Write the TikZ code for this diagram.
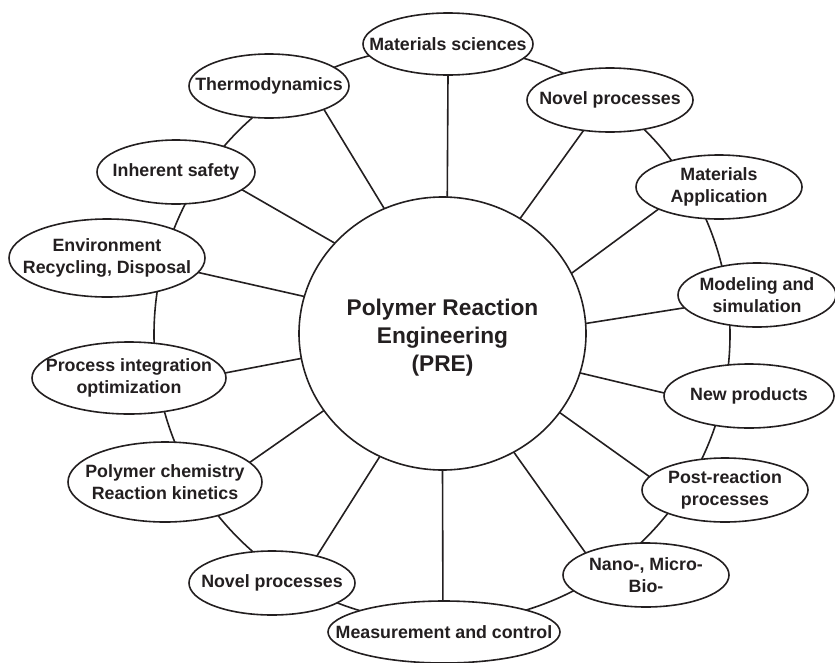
\documentclass[tikz,border=0pt]{standalone}
\usepackage{fontspec}
\setmainfont{Liberation Sans}
\usetikzlibrary{shapes.geometric}
\definecolor{ink}{RGB}{35,31,32}
\tikzset{
  bub/.style 2 args={ellipse, draw=ink, fill=white, line width=1.6pt,
    minimum width=#1, minimum height=#2, inner sep=0pt, outer sep=0pt},
  lbl/.style={font=\bfseries\fontsize{17.8}{22}\selectfont, text=ink, align=center, inner sep=0pt},
  biglbl/.style={font=\bfseries\fontsize{22.7}{28}\selectfont, text=ink, align=center, inner sep=0pt},
  link/.style={draw=ink, line width=1.6pt}
}
\begin{document}
\begin{tikzpicture}[x=1pt,y=-1pt]
\useasboundingbox (0,0) rectangle (835,662);
% outer ring
\coordinate (hub) at (442,334.5);
\draw[link] (hub) circle[radius=288];
% central
\node[bub={287}{273}] (pre) at (442.5,333.5) {};
\node[biglbl, yshift=-4pt] (pre-t) at (pre) {Polymer Reaction\\Engineering\\(PRE)};
% satellites
\node[bub={170}{62}] (ms) at (448,44) {};
\node[lbl] (ms-t) at (ms) {Materials sciences};
\node[bub={166}{64}] (np1) at (610,100) {};
\node[lbl] (np1-t) at (np1) {Novel processes};
\node[bub={166}{64}] (ma) at (719,187) {};
\node[lbl] (ma-t) at (ma) {Materials\\Application};
\node[bub={158}{64}] (mod) at (757,295) {};
\node[lbl] (mod-t) at (mod) {Modeling and\\simulation};
\node[bub={170}{64}] (newp) at (749,396) {};
\node[lbl] (newp-t) at (newp) {New products};
\node[bub={166}{64}] (post) at (725,490) {};
\node[lbl] (post-t) at (post) {Post-reaction\\processes};
\node[bub={166}{64}] (nano) at (646,575) {};
\node[lbl] (nano-t) at (nano) {Nano-, Micro-\\Bio-};
\node[bub={232}{62}] (meas) at (444,632) {};
\node[lbl] (meas-t) at (meas) {Measurement and control};
\node[bub={166}{64}] (np2) at (272,583) {};
\node[lbl] (np2-t) at (np2) {Novel processes};
\node[bub={194}{80}] (poly) at (165,482) {};
\node[lbl] (poly-t) at (poly) {Polymer chemistry\\Reaction kinetics};
\node[bub={194}{72}] (proc) at (129,378) {};
\node[lbl] (proc-t) at (proc) {Process integration\\optimization};
\node[bub={196}{78}] (env) at (107,258) {};
\node[lbl] (env-t) at (env) {Environment\\Recycling, Disposal};
\node[bub={158}{64}] (inh) at (176,172) {};
\node[lbl] (inh-t) at (inh) {Inherent safety};
\node[bub={160}{64}] (thermo) at (269,86) {};
\node[lbl] (thermo-t) at (thermo) {Thermodynamics};
% spokes
\draw[link] (pre.88) -- (ms.-90);
\draw[link] (pre.56.8) -- (np1.229);
\draw[link] (pre.25) -- (ma.200.4);
\draw[link] (pre.4.2) -- (mod.190.2);
\draw[link] (pre.-16) -- (newp.178);
\draw[link] (pre.-34.6) -- (post.170.2);
\draw[link] (pre.-59.1) -- (nano.160.2);
\draw[link] (pre.-90) -- (meas.92);
\draw[link] (pre.243.7) -- (np2.31.3);
\draw[link] (pre.213.3) -- (poly.13.4);
\draw[link] (pre.190.9) -- (proc.3);
\draw[link] (pre.165) -- (env.-9.3);
\draw[link] (pre.140.4) -- (inh.-15.4);
\draw[link] (pre.115) -- (thermo.-23.6);
\end{tikzpicture}
\end{document}
